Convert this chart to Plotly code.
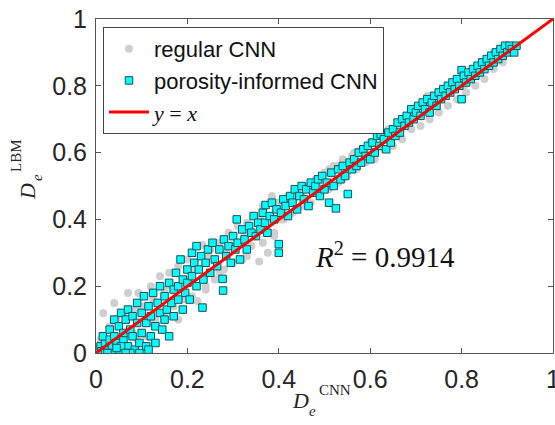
import plotly.graph_objects as go

# ---- data ----
cnn_pi_x = [0.005,0.01,0.012,0.02,0.015,0.025,0.03,0.03,0.035,0.04,0.04,0.045,0.05,0.05,0.055,0.06,0.06,0.065,0.07,0.07,
            0.075,0.08,0.08,0.085,0.09,0.09,0.095,0.1,0.1,0.105,0.11,0.11,0.115,0.12,0.12,0.125,0.13,0.13,0.135,0.14,
            0.14,0.145,0.15,0.15,0.155,0.16,0.16,0.165,0.17,0.17,0.175,0.18,0.18,0.185,0.19,0.19,0.195,0.2,0.2,0.205,
            0.21,0.21,0.215,0.22,0.22,0.225,0.233,0.23,0.235,0.24,0.245,0.25,0.255,0.26,0.265,0.27,0.278,0.277,0.28,0.285,
            0.29,0.295,0.3,0.305,0.308,0.31,0.315,0.32,0.325,0.33,0.335,0.34,0.345,0.35,0.355,0.36,0.365,0.371,0.37,0.375,
            0.38,0.385,0.39,0.395,0.40,0.40,0.405,0.41,0.415,0.42,0.425,0.43,0.435,0.44,0.445,0.45,0.455,0.46,0.465,0.47,
            0.475,0.48,0.486,0.49,0.495,0.5,0.505,0.51,0.515,0.52,0.525,0.53,0.535,0.54,0.545,0.551,0.555,0.56,0.565,0.57,
            0.575,0.58,0.585,0.59,0.595,0.6,0.605,0.61,0.615,0.62,0.623,0.63,0.635,0.64,0.645,0.65,0.655,0.66,0.665,0.67,
            0.675,0.68,0.685,0.69,0.695,0.7,0.705,0.71,0.715,0.72,0.725,0.73,0.735,0.74,0.745,0.75,0.755,0.76,0.765,0.77,
            0.775,0.78,0.785,0.79,0.795,0.80,0.80,0.805,0.81,0.815,0.82,0.825,0.83,0.835,0.84,0.845,0.85,0.855,0.86,0.865,
            0.87,0.875,0.88,0.885,0.89,0.895,0.9,0.905,0.91,0.915,0.92,0.02,0.035,0.055,0.075,0.095,0.115,0.065,0.045,0.025]
cnn_pi_y = [0.01,0.02,0.005,0.03,0.05,0.01,0.04,0.07,0.02,0.10,0.05,0.03,0.08,0.01,0.12,0.04,0.06,0.10,0.02,0.13,
            0.07,0.05,0.11,0.01,0.09,0.15,0.03,0.06,0.12,0.17,0.02,0.09,0.14,0.05,0.11,0.18,0.08,0.03,0.15,0.12,
            0.20,0.07,0.17,0.10,0.13,0.21,0.05,0.15,0.19,0.11,0.24,0.16,0.20,0.28,0.22,0.13,0.18,0.25,0.21,0.16,
            0.30,0.23,0.27,0.20,0.32,0.25,0.136,0.29,0.22,0.27,0.31,0.24,0.33,0.28,0.26,0.31,0.187,0.222,0.34,0.29,
            0.32,0.27,0.35,0.31,0.40,0.33,0.28,0.37,0.34,0.31,0.38,0.36,0.41,0.35,0.39,0.37,0.42,0.443,0.39,0.36,
            0.41,0.45,0.40,0.43,0.30,0.326,0.42,0.46,0.44,0.41,0.47,0.45,0.49,0.43,0.47,0.50,0.46,0.49,0.44,0.51,
            0.48,0.50,0.52,0.47,0.53,0.49,0.51,0.45,0.54,0.50,0.433,0.55,0.52,0.56,0.53,0.476,0.57,0.55,0.58,0.56,
            0.60,0.57,0.61,0.59,0.62,0.58,0.63,0.60,0.65,0.62,0.655,0.64,0.61,0.66,0.63,0.67,0.65,0.69,0.66,0.70,
            0.68,0.71,0.69,0.73,0.70,0.72,0.74,0.71,0.75,0.73,0.76,0.72,0.75,0.77,0.74,0.78,0.76,0.79,0.77,0.80,
            0.78,0.81,0.79,0.82,0.80,0.76,0.847,0.83,0.81,0.84,0.82,0.85,0.83,0.86,0.84,0.87,0.85,0.88,0.86,0.89,
            0.87,0.90,0.88,0.91,0.89,0.92,0.90,0.92,0.91,0.90,0.92,0.0,0.0,0.02,0.0,0.0,0.01,0.0,0.015,0.0]

cnn_reg_x = [0.01,0.016,0.02,0.03,0.04,0.05,0.06,0.07,0.08,0.093,0.1,0.11,0.12,0.13,0.14,0.15,0.16,0.17,0.18,0.19,
             0.2,0.21,0.222,0.233,0.24,0.25,0.26,0.27,0.28,0.29,0.3,0.31,0.32,0.33,0.34,0.357,0.365,0.376,0.385,0.39,
             0.4,0.41,0.42,0.43,0.44,0.45,0.46,0.47,0.48,0.49,0.5,0.51,0.52,0.53,0.54,0.55,0.56,0.57,0.58,0.59,
             0.6,0.61,0.62,0.63,0.64,0.65,0.66,0.67,0.68,0.69,0.7,0.71,0.72,0.73,0.74,0.75,0.76,0.77,0.78,0.79,
             0.8,0.81,0.82,0.83,0.84,0.85,0.86,0.87,0.88,0.89,0.9,0.91,0.03,0.06,0.09,0.12,0.15,0.18,0.21,0.24,
             0.27,0.3,0.33,0.36,0.39,0.42,0.45,0.48,0.51,0.54,0.57,0.6,0.63,0.66,0.69,0.72,0.75,0.78,0.81,0.84,
             0.87,0.9,0.045,0.085,0.125,0.165,0.205,0.245,0.285,0.325,0.365,0.405,0.445,0.485,0.525,0.565,0.605,0.645,0.685,0.725,
             0.765,0.805,0.845,0.885]
cnn_reg_y = [0.04,0.119,0.02,0.08,0.15,0.03,0.12,0.18,0.06,0.18,0.14,0.05,0.2,0.1,0.23,0.12,0.24,0.14,0.26,0.16,
             0.28,0.17,0.156,0.323,0.2,0.31,0.22,0.33,0.25,0.36,0.27,0.38,0.28,0.39,0.32,0.274,0.44,0.30,0.47,0.36,
             0.45,0.40,0.47,0.42,0.49,0.44,0.50,0.45,0.52,0.48,0.54,0.49,0.56,0.51,0.58,0.53,0.59,0.55,0.61,0.57,
             0.63,0.58,0.65,0.61,0.67,0.62,0.69,0.64,0.71,0.67,0.72,0.68,0.74,0.70,0.76,0.72,0.78,0.74,0.80,0.76,
             0.81,0.78,0.83,0.80,0.85,0.82,0.87,0.85,0.89,0.87,0.91,0.90,0.01,0.02,0.04,0.09,0.19,0.1,0.25,0.19,
             0.24,0.32,0.29,0.4,0.35,0.45,0.47,0.5,0.55,0.52,0.6,0.63,0.66,0.68,0.72,0.74,0.78,0.81,0.84,0.86,
             0.9,0.91,0.1,0.13,0.16,0.2,0.22,0.29,0.3,0.35,0.33,0.4,0.47,0.51,0.56,0.6,0.63,0.67,0.71,0.77,
             0.79,0.8,0.86,0.9]

line_x = [0, 1]
line_y = [0, 1]

x_ticks = [0, 0.2, 0.4, 0.6, 0.8, 1]
x_tick_labels = ["0", "0.2", "0.4", "0.6", "0.8", "1"]
y_ticks = [0, 0.2, 0.4, 0.6, 0.8, 1]
y_tick_labels = ["0", "0.2", "0.4", "0.6", "0.8", "1"]

SERIF = "Liberation Serif"
TXT = "#262626"

# plot-area geometry in pixels (for placing title pieces)
W, H = 555, 425
L, R, T, B = 96, 2, 19, 72
PW, PH = W - L - R, H - T - B


def px(xp):
    return (xp - L) / PW


def py(yp):
    return (H - B - yp) / PH


fig = go.Figure()
fig.add_trace(go.Scatter(
    x=cnn_reg_x, y=cnn_reg_y, mode="markers", name="regular CNN",
    marker=dict(symbol="circle", size=8, color="#cfcfcf", line=dict(width=0))))
fig.add_trace(go.Scatter(
    x=cnn_pi_x, y=cnn_pi_y, mode="markers", name="porosity-informed CNN",
    marker=dict(symbol="square", size=7.5, color="#00ffff", line=dict(width=1, color="#1f4f55"))))
fig.add_trace(go.Scatter(
    x=line_x, y=line_y, mode="lines",
    name=f'<span style="font-family:{SERIF}"><i>y</i> = <i>x</i></span>',
    line=dict(color="#ff0000", width=3)))

axis_common = dict(
    range=[0, 1], showgrid=False, zeroline=False, showline=True, mirror="ticks",
    linecolor="#555555", linewidth=1, ticks="inside", ticklen=5, tickcolor="#555555",
    tickfont=dict(family="Liberation Sans", size=25, color=TXT),
    ticklabeloverflow="allow", automargin=False,
)

annotations = [
    # R^2 text
    dict(x=0.632, y=0.293, xref="x", yref="y",
         text="<i>R</i><sup>2</sup> = 0.9914", showarrow=False,
         font=dict(family=SERIF, size=29, color="#111111")),
    # x-axis title: D_e^CNN (sub/sup stacked)
    dict(x=px(300), y=py(400), xref="paper", yref="paper", text="<i>D</i>",
         showarrow=False, xanchor="center", yanchor="middle",
         font=dict(family=SERIF, size=22, color=TXT)),
    dict(x=px(312.5), y=py(411), xref="paper", yref="paper", text="<i>e</i>",
         showarrow=False, xanchor="center", yanchor="middle",
         font=dict(family=SERIF, size=15, color=TXT)),
    dict(x=px(317), y=py(390), xref="paper", yref="paper", text="CNN",
         showarrow=False, xanchor="left", yanchor="middle",
         font=dict(family=SERIF, size=15, color=TXT)),
    # y-axis title: D_e^LBM (rotated)
    dict(x=px(27), y=py(192), xref="paper", yref="paper", text="<i>D</i>",
         showarrow=False, xanchor="center", yanchor="middle", textangle=-90,
         font=dict(family=SERIF, size=22, color=TXT)),
    dict(x=px(37), y=py(178), xref="paper", yref="paper", text="<i>e</i>",
         showarrow=False, xanchor="center", yanchor="middle", textangle=-90,
         font=dict(family=SERIF, size=15, color=TXT)),
    dict(x=px(16), y=py(156), xref="paper", yref="paper", text="LBM",
         showarrow=False, xanchor="center", yanchor="middle", textangle=-90,
         font=dict(family=SERIF, size=15, color=TXT)),
]

fig.update_layout(
    width=W, height=H,
    margin=dict(l=L, r=R, t=T, b=B, autoexpand=False),
    plot_bgcolor="white", paper_bgcolor="white",
    xaxis=dict(**axis_common, tickvals=x_ticks, ticktext=x_tick_labels, ticklabelstandoff=4),
    yaxis=dict(**axis_common, tickvals=y_ticks, ticktext=y_tick_labels, ticklabelstandoff=3),
    legend=dict(x=0.0153, y=0.976, xanchor="left", yanchor="top",
                bgcolor="white", bordercolor="#444444", borderwidth=1,
                font=dict(family="Liberation Sans", size=22, color="#111111"),
                itemwidth=40, tracegroupgap=0),
    showlegend=True,
    annotations=annotations,
)

fig.write_html("out.html")
